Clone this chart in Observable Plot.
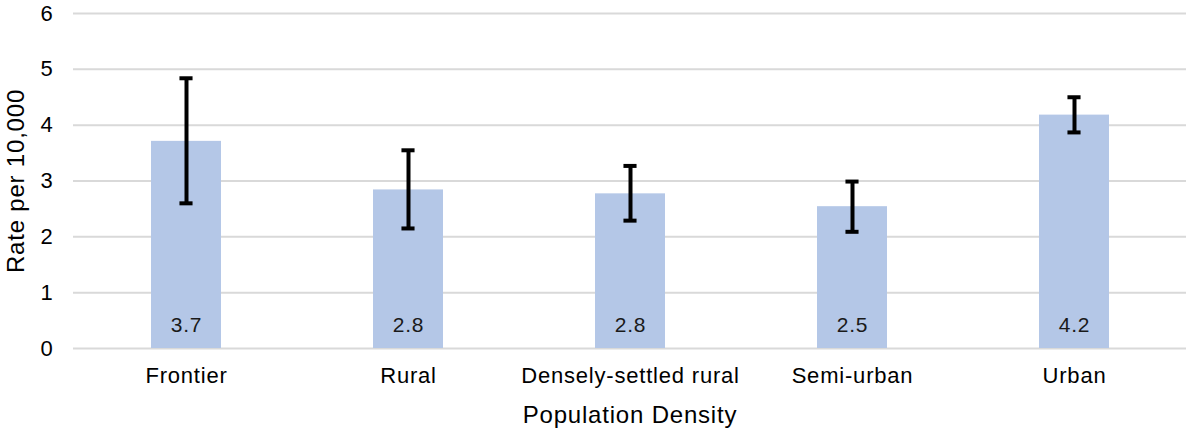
<!DOCTYPE html>
<html>
<head>
<meta charset="utf-8">
<script src="https://cdn.jsdelivr.net/npm/d3@7"></script>
<script src="https://cdn.jsdelivr.net/npm/@observablehq/plot@0.6"></script>
<style>
  html, body { margin: 0; padding: 0; background: #fff; }
  #chart svg { display: block; }
  #chart svg text { letter-spacing: 0.8px; }
</style>
</head>
<body>
<div id="chart"></div>
<script>
const categories = ["Frontier", "Rural", "Densely-settled rural", "Semi-urban", "Urban"];
const rates = [3.71, 2.84, 2.77, 2.54, 4.18];
const lower = [2.60, 2.15, 2.29, 2.09, 3.87];
const upper = [4.84, 3.55, 3.27, 2.99, 4.50];
const yTicks = [0, 1, 2, 3, 4, 5, 6];

const data = categories.map((c, i) => ({cat: c, rate: rates[i], lo: lower[i], hi: upper[i]}));

const W = 1186, H = 429;
const ml = 73, mr = 0;
const padIn = 0.686;
const bandStep = (W - ml - mr) / categories.length;
const barW = bandStep * (1 - padIn);
const capInset = (barW - 13) / 2;

const chart = Plot.plot({
  width: W,
  height: H,
  marginLeft: ml,
  marginRight: mr,
  marginTop: 13,
  marginBottom: 81,
  style: {fontFamily: "Liberation Sans, Arial, sans-serif", fontSize: "21px", color: "#000", background: "#fff"},
  x: {domain: categories, paddingInner: padIn, paddingOuter: padIn / 2, align: 0.5, label: null},
  y: {domain: [0, 6], ticks: yTicks, label: null},
  marks: [
    Plot.gridY(yTicks, {stroke: "#d9d9d9", strokeWidth: 2, strokeOpacity: 1}),
    Plot.barY(data, {x: "cat", y: "rate", fill: "#b4c7e7"}),
    Plot.ruleX(data, {x: "cat", y1: "lo", y2: "hi", stroke: "#000", strokeWidth: 4}),
    Plot.tickY(data, {x: "cat", y: "lo", stroke: "#000", strokeWidth: 4, insetLeft: capInset, insetRight: capInset}),
    Plot.tickY(data, {x: "cat", y: "hi", stroke: "#000", strokeWidth: 4, insetLeft: capInset, insetRight: capInset}),
    Plot.text(data, {x: "cat", y: 0, text: d => d3.format(".1f")(d.rate), dy: -23, fill: "#1a1a1a", fontSize: 21}),
    Plot.axisY(yTicks, {tickSize: 0, tickPadding: 20, fontSize: 22, fill: "#000", tickFormat: d3.format("d"), label: null}),
    Plot.axisX({tickSize: 0, tickPadding: 19, fontSize: 22, fill: "#000", label: null}),
    Plot.text(["Population Density"], {frameAnchor: "bottom", lineAnchor: "middle", textAnchor: "middle", dy: 67, fontSize: 24, fill: "#000"}),
    Plot.text(["Rate per 10,000"], {frameAnchor: "left", lineAnchor: "middle", textAnchor: "middle", rotate: -90, dx: -57, fontSize: 24, fill: "#000"})
  ]
});
document.getElementById("chart").appendChild(chart);
</script>
</body>
</html>
